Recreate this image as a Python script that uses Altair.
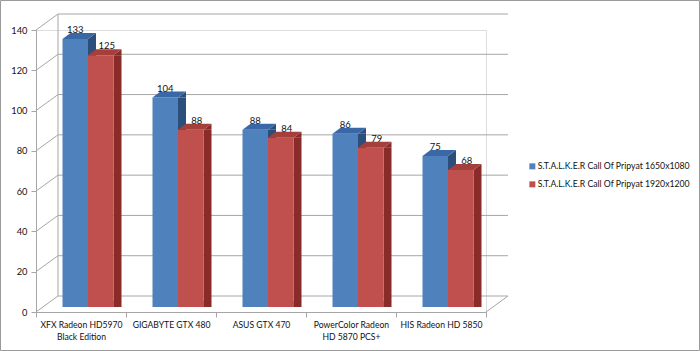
import altair as alt
import pandas as pd

# ---------------- data ----------------
categories = [
    "XFX Radeon HD5970|Black Edition",
    "GIGABYTE GTX 480",
    "ASUS GTX 470",
    "PowerColor Radeon|HD 5870 PCS+",
    "HIS Radeon HD 5850",
]
series = [
    "S.T.A.L.K.E.R Call Of Pripyat 1650x1080",
    "S.T.A.L.K.E.R Call Of Pripyat 1920x1200",
]
values_1650 = [133, 104, 88, 86, 75]
values_1920 = [125, 88, 84, 79, 68]
y_ticks = [0, 20, 40, 60, 80, 100, 120, 140]

# ---------------- style ----------------
front_colors = ["#4F81BD", "#C0504D"]
top_colors = ["#3A68A6", "#A53F3B"]
side_colors = ["#2C4E7A", "#892B28"]
FONT = "Lato"
FS = 9
GRID = "#A6A6A6"

W, H = 450, 282          # front plane of the plot
DX, DY = 22, 16          # depth of the walls (px)
BW = 25.5                # bar width (px)
BDX, BDY = 8, 6          # depth of each bar (px)
FX, FY = 7, 5            # bar front offset from front plane (px)
label_dx = [0, 6]

df = pd.DataFrame({
    "cat": categories * 2,
    "series": [series[0]] * len(categories) + [series[1]] * len(categories),
    "value": values_1650 + values_1920,
})
ticks_df = pd.DataFrame({"v": y_ticks})
one = pd.DataFrame({"k": [0]})

x_scale = alt.Scale(domain=categories, paddingInner=0, paddingOuter=0)
y_scale = alt.Scale(domain=[0, 140], nice=False, zero=True)

x_axis = alt.Axis(
    tickBand="extent", tickSize=5, tickColor=GRID, domainColor=GRID,
    labelAngle=0, labelFont=FONT, labelFontSize=8.6, labelColor="#111111",
    labelPadding=3, labelLineHeight=12, labelBaseline="top",
    labelExpr="split(datum.label, '|')", grid=False, title=None,
)
y_axis = alt.Axis(
    values=y_ticks, tickSize=5, tickColor=GRID, domainColor=GRID,
    labelFont=FONT, labelFontSize=FS + 0.3, labelColor="#111111",
    labelPadding=4, grid=False, title=None,
)


def X():
    return alt.X("cat:N", scale=x_scale, sort=categories, axis=x_axis, title=None)


def Y(field="value:Q"):
    return alt.Y(field, scale=y_scale, axis=y_axis, title=None)


layers = []

# axes layer (invisible points)
layers.append(alt.Chart(df).mark_point(opacity=0).encode(x=X(), y=Y()))

# back wall grid lines
layers.append(
    alt.Chart(ticks_df).mark_rule(color=GRID, strokeWidth=1, yOffset=-DY).encode(
        x=alt.value(DX), x2=alt.value(W + DX), y=Y("v:Q"),
    )
)
# left wall diagonals
layers.append(
    alt.Chart(ticks_df).mark_rule(color=GRID, strokeWidth=1, y2Offset=-DY).encode(
        x=alt.value(0), x2=alt.value(DX), y=Y("v:Q"), y2="v:Q",
    )
)
# back wall left edge and floor right diagonal
layers.append(
    alt.Chart(one).mark_rule(color=GRID, strokeWidth=1).encode(
        x=alt.value(DX), y=alt.value(H - DY), y2=alt.value(-DY),
    )
)
layers.append(
    alt.Chart(one).mark_rule(color=GRID, strokeWidth=1).encode(
        x=alt.value(W), x2=alt.value(W + DX), y=alt.value(H), y2=alt.value(H - DY),
    )
)

top_path = f"M0,0L{BW},0L{BW + BDX},{-BDY}L{BDX},{-BDY}Z"
side_top_path = f"M0,0L{BDX},{-BDY}L{BDX},0Z"
side_bot_path = f"M0,{-BDY}L0,0L{BDX},{-BDY}Z"

for j, s in enumerate(series):
    base = alt.Chart(df).transform_filter(alt.datum.series == s)
    off = FX + (j - 0.5) * BW
    # side face (rectangle part)
    layers.append(
        base.mark_bar(color=side_colors[j], width=BDX, xOffset=off + BW / 2 + BDX / 2,
                      yOffset=-FY, y2Offset=-FY - BDY).encode(x=X(), y=Y())
    )
    # side face triangles
    layers.append(
        base.mark_point(shape=side_top_path, size=4, filled=True, opacity=1,
                        color=side_colors[j], xOffset=off + BW / 2, yOffset=-FY).encode(x=X(), y=Y())
    )
    layers.append(
        base.mark_point(shape=side_bot_path, size=4, filled=True, opacity=1,
                        color=side_colors[j], xOffset=off + BW / 2, yOffset=-FY).encode(
            x=X(), y=alt.Y(datum=0, scale=y_scale, axis=y_axis))
    )
    # front face
    layers.append(
        base.mark_bar(width=BW, xOffset=off, yOffset=-FY, y2Offset=-FY).encode(
            x=X(), y=Y(),
            color=alt.Color("series:N", scale=alt.Scale(domain=series, range=front_colors),
                            legend=alt.Legend(
                                orient="none", legendX=492, legendY=132, title=None,
                                symbolType="square", symbolSize=36, symbolStrokeWidth=0,
                                labelFont=FONT, labelFontSize=8.7, labelColor="#111111",
                                labelOffset=1, rowPadding=8, padding=0, labelLimit=0,
                            )),
        )
    )
    # top face
    layers.append(
        base.mark_point(shape=top_path, size=4, filled=True, opacity=1,
                        color=top_colors[j], xOffset=off - BW / 2, yOffset=-FY).encode(x=X(), y=Y())
    )
    # value labels
    layers.append(
        base.mark_text(font=FONT, fontSize=FS + 0.5, color="#111111", baseline="alphabetic",
                       xOffset=off + label_dx[j], yOffset=-FY - BDY).encode(
            x=X(), y=Y(), text="value:Q")
    )

# outer border of the picture
layers.append(
    alt.Chart(one).mark_rect(fill=None, stroke="#9A9A9A", strokeWidth=1).encode(
        x=alt.value(-35.5), x2=alt.value(663.5), y=alt.value(-29.5), y2=alt.value(320.5),
    )
)

chart = alt.layer(*layers).properties(
    width=W, height=H,
    autosize=alt.AutoSizeParams(type="none"),
    padding={"left": 36, "top": 30, "right": 214, "bottom": 39},
).configure_view(stroke=None).configure(background="white")

chart.save("out.html", embed_options={"renderer": "svg", "actions": False})
